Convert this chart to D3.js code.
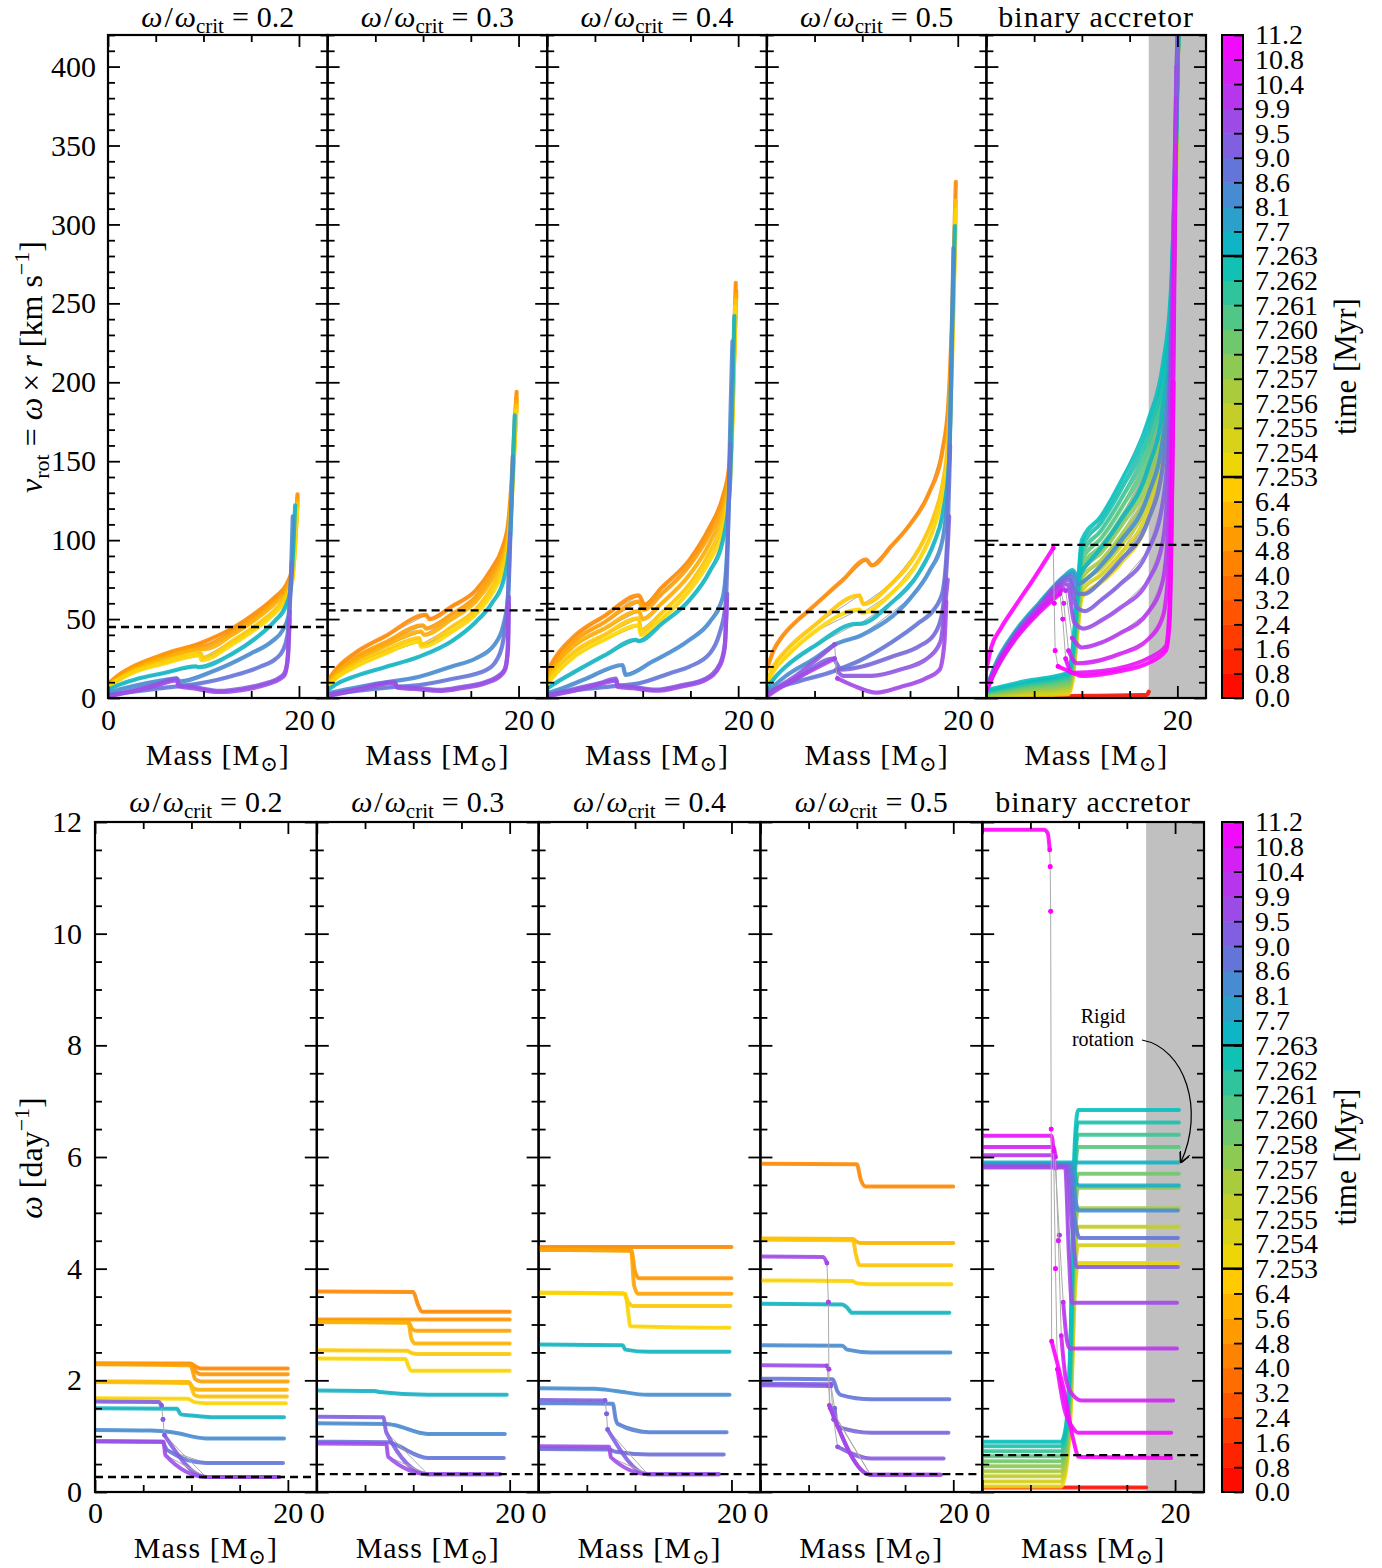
<!DOCTYPE html>
<html>
<head>
<meta charset="utf-8">
<script src="https://cdn.jsdelivr.net/npm/d3@7"></script>
<style>
  body { margin: 0; background: #fff; }
  text { font-family: "Liberation Serif", "DejaVu Serif", serif; fill: #000; }
</style>
</head>
<body>
<script>
// ---- colour bar ticks (time, Myr), bottom to top ----
var timeTicks = [0.0, 0.8, 1.6, 2.4, 3.2, 4.0, 4.8, 5.6, 6.4, 7.253, 7.254, 7.255, 7.256, 7.257,
  7.258, 7.260, 7.261, 7.262, 7.263, 7.7, 8.1, 8.6, 9.0, 9.5, 9.9, 10.4, 10.8, 11.2];
var timeLabels = ['0.0', '0.8', '1.6', '2.4', '3.2', '4.0', '4.8', '5.6', '6.4', '7.253', '7.254', '7.255',
  '7.256', '7.257', '7.258', '7.260', '7.261', '7.262', '7.263', '7.7', '8.1', '8.6', '9.0', '9.5', '9.9',
  '10.4', '10.8', '11.2'];

var titles = ['0.2', '0.3', '0.4', '0.5'];
var massTicks = [0, 20];
var massMinor = [5, 10, 15];
var vrotTicks = [0, 50, 100, 150, 200, 250, 300, 350, 400];
var omegaTicks = [0, 2, 4, 6, 8, 10, 12];
var vrotDashed = [45, 55.5, 56.5, 54.5, 97];
var omegaDashed = [0.27, 0.32, 0.32, 0.32, 0.66];
var grayFrom = 17;

// ---- v_rot profiles: [mass, v, jump?] ----
var vrot1 = [
  {t: 4.6, p: [[0, 9], [1, 14], [3, 21], [6, 28], [9.8, 35], [10.2, 36], [13, 44], [15.5, 54], [17.5, 64], [18.7, 72], [19.3, 82], [19.6, 105], [19.85, 129]]},
  {t: 5.2, p: [[0, 8.5], [1, 13], [3, 20], [6, 27], [9.8, 33], [10.3, 33.5], [13, 42], [15.5, 52], [17.5, 62], [18.7, 70], [19.3, 80], [19.6, 102], [19.85, 127]]},
  {t: 5.8, p: [[0, 8], [1, 12], [3, 19], [6, 25.5], [9.7, 31], [10.2, 31], [13, 40], [15.5, 50], [17.5, 60], [18.7, 68], [19.3, 78], [19.6, 100], [19.85, 125]]},
  {t: 6.6, p: [[0, 7.5], [1, 11.5], [3, 18], [6, 23.5], [9.7, 28.5], [9.9, 25.5], [13, 36], [15.5, 46], [17.5, 56], [18.7, 65], [19.3, 76], [19.6, 98], [19.85, 123]]},
  {t: 7.2, p: [[0, 7], [1, 11], [3, 17], [6, 22], [9.6, 27], [9.8, 24], [13, 34], [15.5, 44], [17.5, 54], [18.7, 63], [19.3, 74], [19.6, 96], [19.8, 120]]},
  {t: 7.5, p: [[0, 5], [1, 8], [3, 12], [6, 16], [9.2, 20], [9.5, 19.5], [13, 28], [15.5, 38], [17.5, 49], [18.6, 58], [19.1, 68], [19.4, 95], [19.6, 122]]},
  {t: 8.35, p: [[0, 3], [1, 5], [3, 8], [5.5, 11], [7.2, 12.5], [7.5, 10.5], [11, 17], [14.9, 28], [17.2, 36], [18.3, 43], [18.9, 52], [19.15, 75], [19.35, 115]]},
  {t: 8.8, p: [[0, 2], [2, 3.5], [5, 5.8], [9.6, 9.3], [13, 14], [16, 20], [17.6, 25], [18.3, 30], [18.8, 40], [19.05, 60], [19.25, 86]]},
  {t: 9.3, p: [[0, 1.5], [2, 4], [5, 8.5], [7.2, 12.3], [7.4, 8.5], [9, 7], [11.7, 4.5], [14, 6], [16.6, 9.5], [18, 13], [18.5, 16], [18.85, 26], [19.05, 55]]},
  {t: 9.7, p: [[0, 1], [2, 3.5], [5, 7.8], [7.2, 11.2], [7.4, 7.5], [9, 6], [11.7, 3.8], [14, 5], [16.6, 8.5], [18, 12], [18.5, 14.5], [18.8, 24], [19.0, 50]]}
];
var vrot2 = [
  {t: 4.6, p: [[0, 11], [1, 19], [3, 29], [6, 39], [10.3, 52.6], [10.7, 50], [13, 58], [15.5, 68], [17.2, 82], [18.3, 95], [18.9, 110], [19.3, 140], [19.6, 175], [19.8, 194]]},
  {t: 5.2, p: [[0, 10], [1, 17], [3, 26], [6, 35], [10, 46], [10.3, 44], [13, 53], [15.5, 64], [17.2, 78], [18.3, 91], [19, 108], [19.4, 145], [19.8, 190]]},
  {t: 5.8, p: [[0, 9], [1, 16], [3, 24], [6, 33], [9.8, 42], [10.1, 40], [13, 50], [15.5, 61], [17.2, 75], [18.3, 88], [19, 106], [19.4, 143], [19.8, 188]]},
  {t: 6.6, p: [[0, 8], [1, 14], [3, 22], [6, 30], [9.6, 38], [9.8, 34], [13, 45], [15.5, 56], [17.2, 70], [18.3, 84], [19, 104], [19.4, 140], [19.8, 185]]},
  {t: 7.2, p: [[0, 7], [1, 13], [3, 20], [6, 28], [9.6, 35.7], [9.8, 32.5], [13, 42], [15.5, 53], [17.2, 66], [18.3, 80], [19, 100], [19.4, 138], [19.75, 182]]},
  {t: 7.5, p: [[0, 5], [1, 9], [3, 14], [6, 19.5], [9.6, 26.2], [13, 36], [15.5, 48], [17.2, 60], [18.4, 74], [19.1, 100], [19.4, 145], [19.6, 179]]},
  {t: 8.35, p: [[0, 3], [2, 5.5], [5, 9], [9.6, 13.5], [13, 20], [15.5, 25], [17.5, 34], [18.4, 46], [18.9, 64], [19.2, 115], [19.4, 153]]},
  {t: 8.8, p: [[0, 2], [3, 4.5], [7, 7], [9.6, 8.2], [13, 12], [16.6, 17.7], [17.8, 25], [18.4, 36.7], [18.85, 60], [19.1, 104]]},
  {t: 9.3, p: [[0, 1.8], [3, 5.5], [7, 10.3], [7.3, 7.2], [9, 6.5], [11.7, 5.1], [14, 7], [16.6, 10.3], [18.1, 15], [18.6, 19], [18.9, 32], [19.0, 64]]},
  {t: 9.7, p: [[0, 1.2], [3, 5], [7, 9.5], [7.3, 6.5], [9, 5.8], [11.7, 4.5], [14, 6.2], [16.6, 9.5], [18.1, 14], [18.6, 18], [18.85, 29], [18.95, 60]]}
];
var vrot3 = [
  {t: 4.6, p: [[0, 17], [1, 27], [3, 40], [6, 52], [9.6, 65], [10.2, 59], [12, 70], [14.9, 87.5], [17, 108], [18.4, 127.6], [19.05, 146.5], [19.4, 195], [19.75, 263]]},
  {t: 5.2, p: [[0, 15], [1, 24], [3, 37], [6, 48], [9.6, 61], [10.1, 56], [12, 66], [14.9, 84], [17, 104], [18.4, 124], [19.1, 145], [19.5, 205], [19.8, 258]]},
  {t: 5.8, p: [[0, 13], [1, 22], [3, 34], [6, 44], [9.6, 55], [10, 50], [12, 60], [14.9, 78], [17, 98], [18.4, 119], [19.1, 141], [19.5, 200], [19.8, 255]]},
  {t: 6.6, p: [[0, 11], [1, 19], [3, 30], [6, 40], [9.6, 50.5], [9.8, 43], [12, 54], [14.9, 72], [17, 92], [18.4, 113], [19.1, 138], [19.5, 198], [19.75, 252]]},
  {t: 7.2, p: [[0, 9], [1, 16], [3, 27], [6, 37], [9.6, 46], [9.8, 40], [12, 50], [14.9, 68], [17, 87], [18.4, 107], [19.1, 133], [19.5, 195], [19.7, 248]]},
  {t: 7.5, p: [[0, 6], [1, 10], [3, 17], [6, 27], [9.3, 36.8], [9.6, 36], [12, 47], [14.9, 62], [17, 80], [18.4, 100], [19.1, 130], [19.4, 190], [19.6, 242]]},
  {t: 8.35, p: [[0, 3], [1.5, 6], [4, 12], [7.9, 20.9], [8.2, 14.6], [11, 23], [14.9, 36.8], [17, 48], [18.4, 64], [18.9, 100], [19.2, 180], [19.4, 226]]},
  {t: 8.8, p: [[0, 2], [3, 5], [7, 7.5], [9.6, 9.3], [13, 16], [14.9, 19.9], [17, 28], [18, 40], [18.7, 60], [19.0, 120], [19.2, 161]]},
  {t: 9.3, p: [[0, 1.5], [3, 6], [5.5, 9.5], [7.2, 12.3], [7.4, 8], [9, 7], [11.4, 5.3], [14, 8], [16.6, 12.3], [18.1, 21.8], [18.6, 34], [18.85, 66]]},
  {t: 9.7, p: [[0, 1], [3, 5], [5.5, 8.8], [7.2, 11], [7.4, 7], [9, 6.2], [11.4, 4.6], [14, 7.2], [16.6, 11.5], [18.1, 20.5], [18.6, 32], [18.8, 62]]}
];
var vrot4 = [
  {t: 4.6, p: [[0, 18], [0.7, 30], [1.5, 38], [3, 48], [4.5, 56], [8, 75], [10.4, 87.6], [11, 84], [13, 96], [15, 110], [17, 130], [18.4, 157], [19.0, 185], [19.4, 240], [19.8, 327]]},
  {t: 6.6, p: [[0, 10], [0.7, 20], [2, 30], [5, 46], [9.7, 65], [10.1, 59.5], [13, 72], [16, 95], [17.5, 115], [18.4, 135], [19, 165], [19.5, 240], [19.8, 315]]},
  {t: 7.2, p: [[0, 8], [0.7, 17], [2, 26], [5, 42], [9.7, 56], [10, 54], [13, 66], [16, 88], [17.5, 108], [18.4, 128], [19.1, 160], [19.5, 235], [19.8, 309]]},
  {t: 7.5, p: [[0, 6], [1, 14], [2, 20], [5, 33], [9.4, 47], [9.7, 47], [13, 60], [16, 80], [17.5, 98], [18.4, 116], [19.1, 150], [19.4, 230], [19.7, 299]]},
  {t: 8.35, p: [[0, 4], [1, 9], [2, 14], [5, 25], [7.1, 33.7], [10, 40], [15, 63], [17, 80], [18.4, 100], [19, 135], [19.3, 200], [19.55, 285]]},
  {t: 8.8, p: [[0, 3], [1, 6], [3, 10], [7, 17], [9.7, 23.6], [13, 35], [16, 48], [17.5, 56], [18.4, 67], [18.9, 100], [19.2, 160]]},
  {t: 9.1, p: [[0, 2], [1, 6], [3, 12], [7, 25], [7.3, 22], [7.8, 18], [10, 20], [13, 26], [16, 33], [17.5, 40], [18.3, 52], [18.8, 80], [19.1, 115]]},
  {t: 9.5, p: [[0, 1.5], [1, 6], [3, 14], [7.1, 34], [7.3, 18, 1], [8, 14], [11, 14], [14, 18], [17, 26], [18.2, 36], [18.7, 60], [18.95, 75]]},
  {t: 9.8, p: [[0, 1], [1, 5], [3, 12], [7.1, 25], [7.4, 12.4, 1], [9, 8], [11.5, 3.4], [14, 7], [16.5, 12], [18.1, 18], [18.6, 35], [18.8, 61]]}
];
var vrot5 = [
  {t: 0.4, p: [[0, 0.8], [8.6, 1.2], [16.8, 2], [17, 4]]},
  {t: 7.2535, p: [[0, 0.5], [4, 1.5], [8.6, 2.5], [9.0, 10], [9.6, 45], [10, 64], [12, 73], [14, 85], [16.9, 112], [18.5, 149], [19.3, 210], [19.7, 275], [20.1, 420]]},
  {t: 7.2545, p: [[0, 1], [4, 2.5], [8.6, 4], [9.0, 13], [9.6, 48], [10, 68], [12, 78], [14, 91], [16.9, 119], [18.5, 156], [19.3, 215], [19.7, 280], [20.1, 420]]},
  {t: 7.2555, p: [[0, 1.5], [4, 3.5], [8.6, 5.5], [9.0, 15], [9.6, 51], [10, 72], [12, 82], [14, 96], [16.9, 126], [18.5, 163], [19.3, 220], [19.7, 285], [20.1, 420]]},
  {t: 7.2565, p: [[0, 2], [4, 4.5], [8.6, 7], [9.0, 17], [9.6, 54], [10, 76], [12, 87], [14, 102], [16.9, 133], [18.5, 170], [19.3, 225], [19.7, 290], [20.1, 420]]},
  {t: 7.2575, p: [[0, 2.5], [4, 5.5], [8.6, 8.5], [9.0, 19], [9.6, 57], [10, 80], [12, 92], [14, 108], [16.9, 140], [18.5, 177], [19.3, 230], [19.7, 295], [20.1, 420]]},
  {t: 7.2588, p: [[0, 3], [4, 6.5], [8.6, 10], [9.0, 21], [9.6, 60], [10, 84], [12, 96], [14, 113], [16.9, 147], [18.5, 184], [19.3, 235], [19.7, 300], [20.1, 420]]},
  {t: 7.2602, p: [[0, 3.5], [4, 7.5], [8.6, 11.5], [9.0, 23], [9.6, 63], [10, 88], [12, 101], [14, 119], [16.9, 154], [18.5, 191], [19.3, 240], [19.7, 305], [20.1, 420]]},
  {t: 7.2612, p: [[0, 4], [4, 8.5], [8.6, 13], [9.0, 25], [9.6, 66], [10, 92], [12, 106], [14, 125], [16.9, 161], [18.5, 198], [19.3, 245], [19.7, 310], [20.1, 420]]},
  {t: 7.2622, p: [[0, 4.5], [4, 9.5], [8.6, 14.5], [9.0, 27], [9.6, 69], [10, 96], [12, 111], [14, 131], [16.9, 168], [18.5, 205], [19.3, 250], [19.7, 315], [20.1, 420]]},
  {t: 7.2629, p: [[0, 5], [4, 10.5], [8.6, 16], [9.0, 29], [9.6, 72], [10, 100], [12, 115], [14, 136], [16.9, 175], [18.5, 212], [19.3, 255], [19.7, 320], [20.1, 420]]},
  {t: 7.5, p: [[0, 6], [1, 22], [3, 42], [5.5, 60], [8.3, 78], [9.0, 81], [9.6, 77], [10.2, 82], [12, 95], [14, 112], [16.9, 145], [18.5, 185], [19.3, 240], [19.7, 320], [20.1, 420]]},
  {t: 8.3, p: [[0, 6], [1, 21], [3, 41], [5.5, 59], [8.3, 77], [9.0, 79], [9.6, 72], [10.2, 74], [12, 84], [14, 99], [16.9, 128], [18.5, 165], [19.3, 225], [19.7, 310], [20.1, 420]]},
  {t: 8.8, p: [[0, 5.5], [1, 20], [3, 40], [5.5, 58], [8.2, 76], [8.8, 77], [9.5, 66], [10.3, 66], [12, 74], [14, 87], [16.9, 112], [18.5, 148], [19.2, 200], [19.6, 300], [20.0, 420]]},
  {t: 9.3, p: [[0, 5.5], [1, 20], [3, 40], [5.5, 58], [8.1, 74], [8.7, 75], [9.4, 58], [10.3, 55], [12, 62], [14, 72], [16.9, 93], [18.5, 125], [19.2, 175], [19.6, 280], [20, 420]]},
  {t: 9.7, p: [[0, 5], [1, 19], [3, 39], [5.5, 57], [8, 72], [8.5, 72], [9.2, 48], [10.2, 44], [12, 49], [14, 57], [16.9, 74], [18.5, 100], [19.1, 150], [19.5, 250], [19.9, 400]]},
  {t: 10.1, p: [[0, 5], [1, 19], [3, 38], [5.5, 56], [7.9, 70], [8.3, 68], [9.0, 38, 1], [10, 32], [12, 35], [14, 41], [16.9, 54], [18.5, 75], [19.1, 115], [19.5, 210], [19.9, 380]]},
  {t: 10.6, p: [[0, 5], [1, 18], [3, 38], [5.5, 55], [7.8, 68], [8.1, 60, 1], [8.6, 30, 1], [9.5, 22], [12, 24], [14, 28], [16.9, 37], [18.5, 52], [19.1, 85], [19.5, 180], [19.8, 350]]},
  {t: 10.9, p: [[0, 4.5], [1, 18], [3, 37], [5.5, 54], [7.7, 66], [8, 50, 1], [8.3, 25, 1], [9, 16], [12, 17], [14, 19], [16.9, 25], [18.8, 33], [19.2, 60], [19.5, 160], [19.8, 330]]},
  {t: 11.2, p: [[0, 18], [0.5, 32], [1.5, 44], [3, 58], [5, 76], [7, 95], [7.1, 60, 1], [7.2, 30, 1], [7.5, 20, 1], [9, 16], [10, 14], [12, 15], [14, 17], [16.9, 22], [18.8, 30], [19.2, 50], [19.4, 110], [19.6, 200]]}
];

// ---- omega profiles: [mass, omega, jump?] ----
var omega1 = [
  {t: 4.6, p: [[0, 2.30], [9.9, 2.30], [10.4, 2.25], [11, 2.21], [20, 2.21]]},
  {t: 5.0, p: [[0, 2.30], [10.0, 2.29], [10.5, 2.15], [11, 2.11], [20, 2.11]]},
  {t: 5.4, p: [[0, 2.29], [9.9, 2.27], [10.4, 2.02], [11, 1.98], [20, 1.98]]},
  {t: 5.9, p: [[0, 1.98], [9.7, 1.97], [10.2, 1.86], [10.8, 1.83], [19.9, 1.83]]},
  {t: 6.4, p: [[0, 1.97], [9.8, 1.95], [10.3, 1.74], [10.8, 1.71], [19.9, 1.71]]},
  {t: 7.2, p: [[0, 1.68], [9.6, 1.67], [10.3, 1.61], [11.5, 1.59], [19.8, 1.59]]},
  {t: 7.5, p: [[0, 1.50], [8.5, 1.49], [8.9, 1.39], [10, 1.37], [12, 1.34], [19.6, 1.34]]},
  {t: 8.35, p: [[0, 1.11], [5.8, 1.10], [8, 1.07], [11.5, 0.96], [19.6, 0.96]]},
  {t: 8.8, p: [[0, 0.91], [7.0, 0.90], [7.3, 0.80], [7.5, 0.75], [11.5, 0.52], [19.5, 0.52]]},
  {t: 9.3, p: [[0, 1.62], [6.6, 1.61], [6.9, 1.55], [7.05, 1.30, 1], [7.2, 1.02, 1], [11.5, 0.27], [19.1, 0.27]]},
  {t: 9.7, p: [[0, 0.91], [7.1, 0.90], [7.3, 0.66], [11.5, 0.27], [19.1, 0.27]]}
];
var omega2 = [
  {t: 4.6, p: [[0, 3.59], [10.0, 3.58], [10.5, 3.35], [10.9, 3.23], [20, 3.23]]},
  {t: 5.0, p: [[0, 3.09], [20, 3.09]]},
  {t: 5.5, p: [[0, 3.05], [9.5, 3.04], [9.9, 2.92], [10.3, 2.89], [20, 2.89]]},
  {t: 6.0, p: [[0, 3.04], [9.5, 3.03], [9.8, 2.75], [10.2, 2.66], [20, 2.66]]},
  {t: 6.8, p: [[0, 2.54], [9.4, 2.53], [9.8, 2.49], [10.5, 2.47], [20, 2.47]]},
  {t: 7.2, p: [[0, 2.39], [9.2, 2.38], [9.5, 2.25], [9.8, 2.17], [20, 2.17]]},
  {t: 7.55, p: [[0, 1.82], [6, 1.81], [6.5, 1.79], [11.5, 1.74], [19.7, 1.74]]},
  {t: 8.35, p: [[0, 1.23], [7.3, 1.22], [8, 1.2], [11.5, 1.04], [19.5, 1.04]]},
  {t: 8.8, p: [[0, 0.90], [7.5, 0.89], [8, 0.86], [11.5, 0.61], [19.4, 0.61]]},
  {t: 9.3, p: [[0, 1.35], [6.9, 1.34], [7.2, 1.07], [11.5, 0.32], [19, 0.32]]},
  {t: 9.7, p: [[0, 0.87], [7.2, 0.86], [7.4, 0.63], [11.5, 0.32], [19, 0.32]]}
];
var omega3 = [
  {t: 4.6, p: [[0, 4.39], [20, 4.39]]},
  {t: 5.0, p: [[0, 4.34], [9.6, 4.33], [10.0, 3.95], [10.4, 3.83], [20, 3.83]]},
  {t: 5.5, p: [[0, 4.34], [9.6, 4.32], [9.9, 3.7], [10.3, 3.55], [20, 3.55]]},
  {t: 6.8, p: [[0, 3.57], [8.8, 3.56], [9.3, 3.40], [9.8, 3.33], [19.9, 3.33]]},
  {t: 7.2, p: [[0, 3.57], [9.0, 3.55], [9.3, 3.2], [9.5, 2.97], [19.8, 2.94]]},
  {t: 7.5, p: [[0, 2.64], [8.7, 2.63], [9.0, 2.55], [11.5, 2.51], [19.8, 2.51]]},
  {t: 8.3, p: [[0, 1.86], [5.8, 1.85], [8, 1.81], [11.3, 1.74], [19.8, 1.74]]},
  {t: 8.6, p: [[0, 1.59], [7.7, 1.58], [8.0, 1.3], [8.2, 1.22], [11.5, 1.07], [19.5, 1.07]]},
  {t: 8.9, p: [[0, 0.77], [7.3, 0.76], [8, 0.72], [11.5, 0.67], [19.2, 0.67]]},
  {t: 9.3, p: [[0, 1.65], [6.9, 1.64], [7.05, 1.4, 1], [7.15, 1.12, 1], [11.3, 0.32], [18.7, 0.32]]},
  {t: 9.7, p: [[0, 0.82], [7.3, 0.81], [7.5, 0.62], [11.3, 0.32], [18.7, 0.32]]}
];
var omega4 = [
  {t: 4.6, p: [[0, 5.88], [10.0, 5.87], [10.4, 5.6], [10.9, 5.47], [20, 5.47]]},
  {t: 6.0, p: [[0, 4.54], [9.6, 4.53], [10.0, 4.48], [10.3, 4.46], [20, 4.46]]},
  {t: 6.6, p: [[0, 4.52], [9.6, 4.51], [9.9, 4.25], [10.3, 4.06], [19.8, 4.06]]},
  {t: 7.15, p: [[0, 3.79], [9.5, 3.78], [10, 3.74], [11.5, 3.72], [19.8, 3.72]]},
  {t: 7.5, p: [[0, 3.37], [8.5, 3.36], [9.0, 3.30], [9.5, 3.21], [19.6, 3.21]]},
  {t: 8.35, p: [[0, 2.63], [8.5, 2.62], [9.0, 2.55], [11.5, 2.50], [19.7, 2.50]]},
  {t: 8.8, p: [[0, 2.03], [7.5, 2.02], [8.0, 1.8], [8.3, 1.74], [11.5, 1.66], [19.6, 1.66]]},
  {t: 9.1, p: [[0, 1.94], [7.3, 1.93], [7.7, 1.5, 1], [8.0, 1.17], [11.5, 1.06], [19.5, 1.06]]},
  {t: 9.4, p: [[0, 1.91], [7.3, 1.90], [7.6, 1.3, 1], [8.0, 0.81, 1], [11.5, 0.60], [19.0, 0.60]]},
  {t: 9.7, p: [[0, 2.27], [6.9, 2.26], [7.1, 1.9, 1], [7.25, 1.5, 1], [11.4, 0.31], [18.7, 0.31]]},
  {t: 9.8, p: [[0, 4.22], [6.5, 4.21], [6.9, 4.1], [7.05, 3.4, 1], [7.1, 2.2, 1], [7.15, 1.55, 1], [11.4, 0.31], [18.7, 0.31]]}
];
var omega5 = [
  {t: 0.4, p: [[0, 0.08], [17, 0.08]]},
  {t: 7.2535, p: [[0, 0.10], [8.2, 0.10], [8.7, 0.40], [9.2, 1.50], [9.6, 3.50], [9.95, 4.10], [20.4, 4.10]]},
  {t: 7.2545, p: [[0, 0.19], [8.2, 0.19], [8.7, 0.49], [9.2, 1.67], [9.6, 3.82], [9.95, 4.42], [20.4, 4.42]]},
  {t: 7.2555, p: [[0, 0.28], [8.2, 0.28], [8.7, 0.58], [9.2, 1.84], [9.6, 4.15], [9.95, 4.75], [20.4, 4.75]]},
  {t: 7.2565, p: [[0, 0.37], [8.2, 0.37], [8.7, 0.67], [9.2, 2.02], [9.6, 4.48], [9.95, 5.08], [20.4, 5.08]]},
  {t: 7.2575, p: [[0, 0.46], [8.2, 0.46], [8.7, 0.76], [9.2, 2.21], [9.6, 4.85], [9.95, 5.45], [20.4, 5.45]]},
  {t: 7.2588, p: [[0, 0.55], [8.2, 0.55], [8.7, 0.85], [9.2, 2.35], [9.6, 5.10], [9.95, 5.70], [20.4, 5.70]]},
  {t: 7.2602, p: [[0, 0.64], [8.2, 0.64], [8.7, 0.94], [9.2, 2.58], [9.6, 5.58], [9.95, 6.18], [20.4, 6.18]]},
  {t: 7.2612, p: [[0, 0.73], [8.2, 0.73], [8.7, 1.03], [9.2, 2.71], [9.6, 5.80], [9.95, 6.40], [20.4, 6.40]]},
  {t: 7.2622, p: [[0, 0.82], [8.2, 0.82], [8.7, 1.12], [9.2, 2.85], [9.6, 6.02], [9.95, 6.62], [20.4, 6.62]]},
  {t: 7.2629, p: [[0, 0.90], [8.2, 0.90], [8.7, 1.20], [9.2, 2.98], [9.6, 6.24], [9.95, 6.84], [20.4, 6.84]]},
  {t: 7.5, p: [[0, 5.90], [20.4, 5.90]]},
  {t: 7.65, p: [[0, 5.88], [9.4, 5.88], [9.8, 5.52], [10.1, 5.49], [20.4, 5.49]]},
  {t: 8.3, p: [[0, 5.86], [9.2, 5.86], [9.7, 5.2], [10.0, 5.04], [20.3, 5.04]]},
  {t: 8.8, p: [[0, 5.85], [9.0, 5.85], [9.5, 5.0], [10.1, 4.55], [20.3, 4.55]]},
  {t: 9.3, p: [[0, 5.83], [8.8, 5.83], [9.3, 4.8], [9.8, 4.03], [20.3, 4.03]]},
  {t: 9.8, p: [[0, 5.81], [8.6, 5.81], [9.0, 4.2], [9.3, 3.39], [20.2, 3.39]]},
  {t: 10.2, p: [[0, 6.03], [7.3, 6.03], [7.6, 5.8], [8.0, 4.6, 1], [8.4, 3.4, 1], [8.8, 2.7], [9.1, 2.57], [20.2, 2.57]]},
  {t: 10.6, p: [[0, 6.18], [7.4, 6.18], [7.6, 6.0], [7.9, 4.5, 1], [8.2, 2.8, 1], [8.7, 2.0], [9.6, 1.7], [10.3, 1.64], [19.8, 1.64]]},
  {t: 10.9, p: [[0, 6.38], [7.2, 6.38], [7.4, 6.1], [7.6, 4.0, 1], [7.8, 2.2, 1], [8.5, 1.5], [9.4, 1.15], [10.0, 1.06], [19.6, 1.06]]},
  {t: 11.2, p: [[0, 11.86], [6.4, 11.86], [6.8, 11.8], [7.0, 11.5], [7.05, 11.2, 1], [7.1, 10.4, 1], [7.15, 6.5, 1], [7.2, 2.7, 1], [7.5, 2.5], [8.5, 1.8], [9.5, 0.9], [10, 0.63], [19.6, 0.61]]}
];

var F = '"Liberation Serif", "DejaVu Serif", serif';
var svg = d3.select('body').append('svg').attr('width', 1382).attr('height', 1568);

var tPos = d3.scaleLinear().domain(timeTicks).range(d3.range(timeTicks.length)).clamp(true);
var lowC = d3.interpolateRgb('#ff0000', '#ffd700');
var midC = d3.piecewise(d3.interpolateRgb, ['#f8d800', '#b8cc30', '#60c878', '#00c0c0']);
var upC = d3.interpolateRgb('#00c0c0', '#ff00ff');
function cmap(p) {
  if (p < 9) return lowC(p / 9);
  if (p < 18) return midC((p - 9) / 9);
  return upC(Math.min(1, (p - 18) / 9));
}

function drawCurve(g, x, y, c, lw) {
  var col = cmap(tPos(c.t));
  var line = d3.line().x(function(d) { return x(d[0]); }).y(function(d) { return y(d[1]); });
  var smooth = d3.line().x(function(d) { return x(d[0]); }).y(function(d) { return y(d[1]); }).curve(d3.curveMonotoneX);
  g.append('path').attr('d', line(c.p)).attr('fill', 'none').attr('stroke', '#aaa').attr('stroke-width', 1);
  var runs = [[c.p[0]]], dots = [];
  for (var i = 1; i < c.p.length; i++) {
    if (c.p[i][2]) { runs.push([c.p[i]]); dots.push(c.p[i - 1], c.p[i]); }
    else runs[runs.length - 1].push(c.p[i]);
  }
  runs.forEach(function(r) {
    if (r.length > 1) {
      g.append('path').attr('d', smooth(r)).attr('fill', 'none').attr('stroke', col)
        .attr('stroke-width', lw).attr('stroke-opacity', 0.88)
        .attr('stroke-linecap', 'round').attr('stroke-linejoin', 'round');
    }
  });
  g.selectAll(null).data(dots).enter().append('circle')
    .attr('cx', function(d) { return x(d[0]); }).attr('cy', function(d) { return y(d[1]); })
    .attr('r', 2.4).attr('fill', col);
}

function axis(g, gen, tr, vals, size, fmt, pad) {
  var a = g.append('g').attr('transform', tr)
    .call(gen.tickValues(vals).tickSize(size).tickPadding(pad || 8).tickFormat(fmt || ''));
  a.select('.domain').remove();
  a.selectAll('line').attr('stroke', '#000').attr('stroke-width', 1.8);
  a.selectAll('text').attr('font-size', 30).attr('font-family', F).attr('fill', '#000');
  return a;
}

function massLabel(g, cx, by) {
  var t = g.append('text').attr('x', cx).attr('y', by).attr('text-anchor', 'middle')
    .attr('font-size', 30).attr('letter-spacing', 1);
  t.append('tspan').text('Mass [M');
  t.append('tspan').attr('font-size', 21).attr('dy', 6).text('\u2299');
  t.append('tspan').attr('dy', -6).text(']');
}

function title(g, cx, by, k) {
  var t = g.append('text').attr('x', cx).attr('y', by).attr('text-anchor', 'middle').attr('font-size', 30);
  if (k === 4) { t.attr('letter-spacing', 1).text('binary accretor'); return; }
  t.append('tspan').attr('font-style', 'italic').text('\u03c9');
  t.append('tspan').attr('dx', 2).text('/');
  t.append('tspan').attr('dx', 2).attr('font-style', 'italic').text('\u03c9');
  t.append('tspan').attr('font-size', 21).attr('dy', 6).text('crit');
  t.append('tspan').attr('dy', -6).attr('dx', 8).text('=');
  t.append('tspan').attr('dx', 8).text(titles[k]);
}

function drawRow(o) {
  var pw = (o.right - o.left) / 5;
  var y = d3.scaleLinear().domain([0, o.yMax]).range([o.bottom, o.top]);
  var minor = d3.range(0, o.yMax + 1e-9, o.yMinor).filter(function(v) {
    return o.yMajor.every(function(m) { return Math.abs(m - v) > 1e-6; });
  });
  for (var k = 0; k < 5; k++) {
    var x0 = o.left + k * pw;
    var x = d3.scaleLinear().domain([0, 23]).range([x0, x0 + pw]);
    var g = svg.append('g');
    var cid = o.id + k;
    svg.append('clipPath').attr('id', cid).append('rect')
      .attr('x', x0).attr('y', o.top).attr('width', pw).attr('height', o.bottom - o.top);
    var pg = g.append('g').attr('clip-path', 'url(#' + cid + ')');
    if (k === 4) {
      pg.append('rect').attr('x', x(grayFrom)).attr('y', o.top).attr('width', x0 + pw - x(grayFrom))
        .attr('height', o.bottom - o.top).attr('fill', '#c0c0c0');
    }
    o.curves[k].slice().sort(function(a, b) { return a.t - b.t; }).forEach(function(c) {
      drawCurve(pg, x, y, c, o.lw);
    });
    pg.append('line').attr('x1', x0).attr('x2', x0 + pw)
      .attr('y1', y(o.dashed[k])).attr('y2', y(o.dashed[k]))
      .attr('stroke', '#000').attr('stroke-width', 2.4).attr('stroke-dasharray', '8,5');

    g.append('rect').attr('x', x0).attr('y', o.top).attr('width', pw).attr('height', o.bottom - o.top)
      .attr('fill', 'none').attr('stroke', '#000').attr('stroke-width', 2.2);

    axis(g, d3.axisLeft(y), 'translate(' + x0 + ',0)', o.yMajor, -12, k === 0 ? d3.format('d') : null, o.yPad);
    axis(g, d3.axisLeft(y), 'translate(' + x0 + ',0)', minor, -7);
    axis(g, d3.axisRight(y), 'translate(' + (x0 + pw) + ',0)', o.yMajor, -12);
    axis(g, d3.axisRight(y), 'translate(' + (x0 + pw) + ',0)', minor, -7);
    axis(g, d3.axisBottom(x), 'translate(0,' + o.bottom + ')', massTicks, -12, d3.format('d'), o.xPad);
    axis(g, d3.axisBottom(x), 'translate(0,' + o.bottom + ')', massMinor, -7);
    axis(g, d3.axisTop(x), 'translate(0,' + o.top + ')', massTicks, -12);
    axis(g, d3.axisTop(x), 'translate(0,' + o.top + ')', massMinor, -7);

    title(g, x0 + pw / 2, o.titleY, k);
    massLabel(g, x0 + pw / 2, o.labelY);
  }
}

drawRow({id: 'ct', left: 108, right: 1206, top: 35, bottom: 698, yMax: 420, yMajor: vrotTicks, yMinor: 10,
  yPad: 12, xPad: 11, titleY: 27, labelY: 765, lw: 4.2, dashed: vrotDashed,
  curves: [vrot1, vrot2, vrot3, vrot4, vrot5]});
drawRow({id: 'cb', left: 95, right: 1204, top: 822, bottom: 1492, yMax: 12, yMajor: omegaTicks, yMinor: 0.5,
  yPad: 13, xPad: 10, titleY: 812, labelY: 1558, lw: 4, dashed: omegaDashed,
  curves: [omega1, omega2, omega3, omega4, omega5]});

// y-axis labels
var yl1 = svg.append('text').attr('transform', 'translate(42,367) rotate(-90)').attr('text-anchor', 'middle').attr('font-size', 32);
yl1.append('tspan').attr('font-style', 'italic').text('v');
yl1.append('tspan').attr('font-size', 22).attr('dy', 7).text('rot');
yl1.append('tspan').attr('dy', -7).attr('dx', 8).text('=');
yl1.append('tspan').attr('dx', 8).attr('font-style', 'italic').text('\u03c9');
yl1.append('tspan').attr('dx', 6).text('\u00d7');
yl1.append('tspan').attr('dx', 6).attr('font-style', 'italic').text('r');
yl1.append('tspan').attr('dx', 8).text('[km s');
yl1.append('tspan').attr('font-size', 22).attr('dy', -13).text('\u22121');
yl1.append('tspan').attr('dy', 13).text(']');

var yl2 = svg.append('text').attr('transform', 'translate(42,1158) rotate(-90)').attr('text-anchor', 'middle').attr('font-size', 32);
yl2.append('tspan').attr('font-style', 'italic').text('\u03c9');
yl2.append('tspan').attr('dx', 8).text('[day');
yl2.append('tspan').attr('font-size', 22).attr('dy', -13).text('\u22121');
yl2.append('tspan').attr('dy', 13).text(']');

// colour bars
function colorbar(top, bottom) {
  var x0 = 1222, w = 21;
  var cy = d3.scaleLinear().domain([0, timeTicks.length - 1]).range([bottom, top]);
  var g = svg.append('g');
  g.selectAll(null).data(d3.range(timeTicks.length - 1)).enter().append('rect')
    .attr('x', x0).attr('width', w)
    .attr('y', function(i) { return cy(i + 1); })
    .attr('height', function(i) { return cy(i) - cy(i + 1) + 0.5; })
    .attr('fill', function(i) { return cmap(i + 0.5); });
  [9, 18].forEach(function(i) {
    g.append('line').attr('x1', x0).attr('x2', x0 + w).attr('y1', cy(i)).attr('y2', cy(i))
      .attr('stroke', '#000').attr('stroke-width', 2.5);
  });
  g.append('rect').attr('x', x0).attr('y', top).attr('width', w).attr('height', bottom - top)
    .attr('fill', 'none').attr('stroke', '#000').attr('stroke-width', 2);
  var a = axis(g, d3.axisRight(cy), 'translate(' + (x0 + w) + ',0)', d3.range(timeTicks.length), -9,
    function(i) { return timeLabels[i]; }, 12);
  a.selectAll('text').attr('font-size', 28);
  g.append('text').attr('transform', 'translate(1356,' + ((top + bottom) / 2) + ') rotate(-90)')
    .attr('text-anchor', 'middle').attr('font-size', 31).text('time [Myr]');
}
colorbar(35, 698);
colorbar(822, 1492);

// annotation
svg.append('defs').append('marker').attr('id', 'arr').attr('viewBox', '0 0 10 10')
  .attr('refX', 9).attr('refY', 5).attr('markerWidth', 9).attr('markerHeight', 9).attr('orient', 'auto')
  .append('path').attr('d', 'M0,0 L10,5 L0,10').attr('fill', 'none').attr('stroke', '#000').attr('stroke-width', 1.5);
svg.append('text').attr('x', 1103).attr('y', 1023).attr('text-anchor', 'middle').attr('font-size', 20).text('Rigid');
svg.append('text').attr('x', 1103).attr('y', 1046).attr('text-anchor', 'middle').attr('font-size', 20).text('rotation');
svg.append('path').attr('d', 'M1142,1040 C1185,1048 1205,1110 1181,1162')
  .attr('fill', 'none').attr('stroke', '#000').attr('stroke-width', 1.2).attr('marker-end', 'url(#arr)');
</script>
</body>
</html>
